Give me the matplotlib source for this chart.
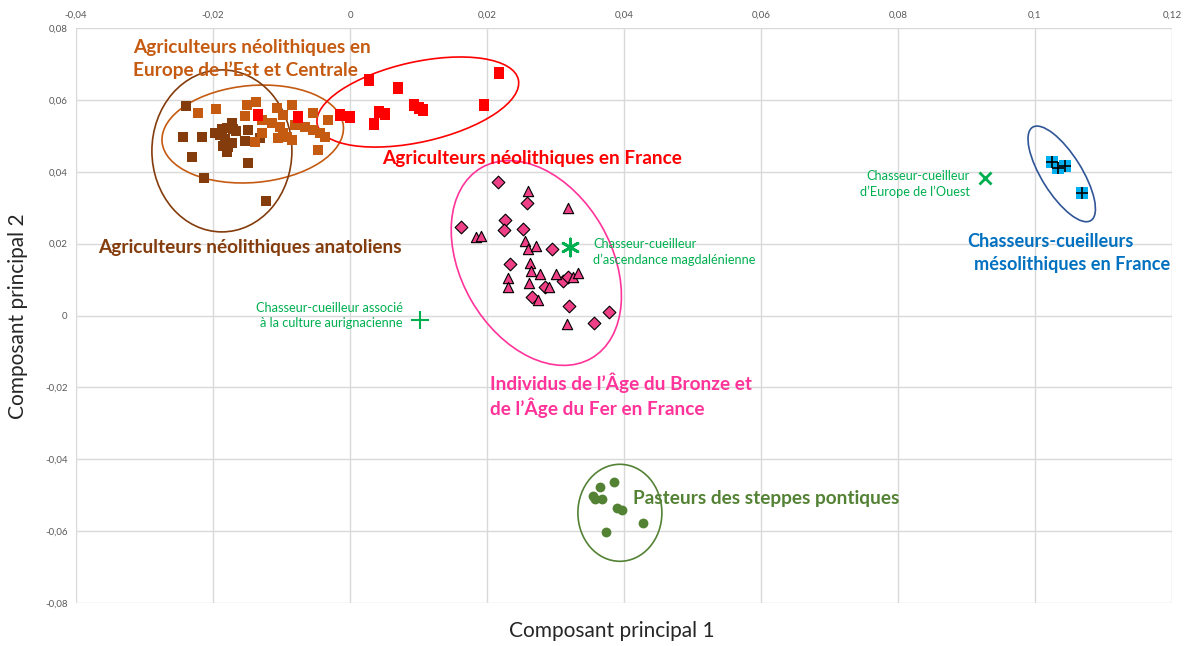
"""PCA scatter: Neolithic / Bronze Age / hunter-gatherer genomes on PC1 x PC2."""

import matplotlib.pyplot as plt
import numpy as np
from matplotlib.patches import Ellipse
from matplotlib.transforms import Affine2D
from matplotlib.ticker import FuncFormatter

plt.rcParams["font.family"] = ["Lato", "DejaVu Sans"]

# --- data ------------------------------------------------------------------
anat_x = [-0.0240, -0.0244, -0.0216, -0.0231, -0.0197, -0.0187, -0.0180, -0.0172,
          -0.0171, -0.0183, -0.0185, -0.0180, -0.0172, -0.0178, -0.0149, -0.0153,
          -0.0149, -0.0213, -0.0123, -0.0131, -0.0190, -0.0166]
anat_y = [0.0583, 0.0498, 0.0498, 0.0442, 0.0508, 0.0519, 0.0522, 0.0536,
          0.0519, 0.0491, 0.0472, 0.0455, 0.0480, 0.0469, 0.0516, 0.0485,
          0.0424, 0.0383, 0.0319, 0.0494, 0.0502, 0.0513]

east_x = [-0.0222, -0.0196, -0.0137, -0.0150, -0.0153, -0.0129, -0.0139, -0.0129,
          -0.0114, -0.0107, -0.0085, -0.0098, -0.0102, -0.0098, -0.0105, -0.0092,
          -0.0085, -0.0054, -0.0066, -0.0054, -0.0044, -0.0037, -0.0047, -0.0032,
          -0.0080]
east_y = [0.0563, 0.0574, 0.0594, 0.0586, 0.0555, 0.0544, 0.0483, 0.0508,
          0.0536, 0.0577, 0.0586, 0.0558, 0.0524, 0.0508, 0.0494, 0.0497,
          0.0488, 0.0563, 0.0524, 0.0516, 0.0508, 0.0497, 0.0460, 0.0544,
          0.0530]

france_x = [-0.0134, -0.0076, -0.0015, 0.0000, 0.0028, 0.0070, 0.0042, 0.0051,
            0.0035, 0.0093, 0.0101, 0.0107, 0.0196, 0.0218]
france_y = [0.0558, 0.0552, 0.0558, 0.0552, 0.0655, 0.0633, 0.0566, 0.0561,
            0.0533, 0.0586, 0.0577, 0.0572, 0.0586, 0.0675]

bronze_dia_x = [0.0216, 0.0258, 0.0162, 0.0226, 0.0225, 0.0253, 0.0295, 0.0234,
                0.0285, 0.0266, 0.0311, 0.0318, 0.0320, 0.0356, 0.0378]
bronze_dia_y = [0.0371, 0.0313, 0.0246, 0.0266, 0.0238, 0.0241, 0.0185, 0.0143,
                0.0079, 0.0052, 0.0096, 0.0107, 0.0026, -0.0021, 0.0010]

bronze_tri_x = [0.0260, 0.0318, 0.0184, 0.0191, 0.0256, 0.0260, 0.0272, 0.0263,
                0.0264, 0.0231, 0.0231, 0.0261, 0.0277, 0.0291, 0.0275, 0.0301,
                0.0326, 0.0333, 0.0317]
bronze_tri_y = [0.0346, 0.0299, 0.0218, 0.0221, 0.0207, 0.0185, 0.0193, 0.0146,
                0.0124, 0.0104, 0.0079, 0.0090, 0.0115, 0.0079, 0.0043, 0.0115,
                0.0107, 0.0118, -0.0024]

steppe_x = [0.0385, 0.0365, 0.0355, 0.0358, 0.0368, 0.0390, 0.0397, 0.0428, 0.0374]
steppe_y = [-0.0463, -0.0477, -0.0502, -0.0510, -0.0510, -0.0536, -0.0541, -0.0577, -0.0602]

meso_x = [0.1025, 0.1034, 0.1044, 0.1069]
meso_y = [0.0427, 0.0410, 0.0416, 0.0341]

whg_x, whg_y = 0.0927, 0.0383          # Europe de l'Ouest
magd_x, magd_y = 0.0321, 0.0191        # magdalénien
aur_x, aur_y = 0.0102, -0.0013         # aurignacien

# ellipses: centre in data units, width/height in pixels, angle in degrees
ELLIPSES = [
    ((-0.0142, 0.0505), 182, 97, 5, "#C55A11"),
    ((-0.0187, 0.0458), 140, 162, 0, "#843C0C"),
    ((0.0099, 0.0594), 206, 80, 12.6, "#FF0000"),
    ((0.0272, 0.0146), 220, 150, -60, "#FF3399"),
    ((0.0394, -0.0549), 84, 97, 0, "#548235"),
    ((0.1039, 0.0394), 110, 40, -58, "#2F5597"),
]

ORANGE = "#C55A11"
BROWN = "#843C0C"
RED = "#FF0000"
PINK = "#EE3F87"
OLIVE = "#548235"
GREEN = "#00B050"
CYAN = "#00B0F0"
BLUE = "#0070C0"


def excel_fmt(v, _):
    if abs(v) < 1e-9:
        return "0"
    s = f"{v:.2f}".rstrip("0")
    return s.replace(".", ",")


def main():
    fig = plt.figure(figsize=(11.95, 6.46), dpi=100)
    ax = fig.add_axes([76 / 1195, 1 - 603 / 646, (1172 - 76) / 1195, (603 - 28) / 646])
    ax.set_xlim(-0.04, 0.12)
    ax.set_ylim(-0.08, 0.08)
    ax.set_xticks(np.arange(-0.04, 0.1201, 0.02))
    ax.set_yticks(np.arange(-0.08, 0.0801, 0.02))
    ax.xaxis.set_major_formatter(FuncFormatter(excel_fmt))
    ax.yaxis.set_major_formatter(FuncFormatter(excel_fmt))
    ax.xaxis.tick_top()
    ax.tick_params(length=0, labelsize=7, colors="#595959", pad=6)
    ax.grid(True, color="#D9D9D9", linewidth=1)
    for s in ax.spines.values():
        s.set_visible(False)
    ax.set_axisbelow(True)

    ax.set_xlabel("Composant principal 1", fontsize=15, color="#262626")
    ax.set_ylabel("Composant principal 2", fontsize=15, color="#262626")
    ax.xaxis.set_label_coords(0.4886, -0.0487)
    ax.yaxis.set_label_coords(-0.0529, 0.499)
    ax.xaxis.label.set_va("center")
    ax.yaxis.label.set_va("center")

    # data-per-pixel factors for drawing ellipses in screen-like units
    kx = 0.16 / (1172 - 76)
    ky = 0.16 / (603 - 28)
    for (cx, cy), w, h, ang, col in ELLIPSES:
        tr = Affine2D().scale(kx, ky).translate(cx, cy) + ax.transData
        ax.add_patch(Ellipse((0, 0), w, h, angle=ang, fill=False, edgecolor=col,
                             linewidth=1.2, transform=tr, zorder=3))

    ax.scatter(anat_x, anat_y, marker="s", s=62, color=BROWN, linewidths=0, zorder=4)
    ax.scatter(east_x, east_y, marker="s", s=62, color=ORANGE, linewidths=0, zorder=5)
    rect = [(-0.8, -1), (0.8, -1), (0.8, 1), (-0.8, 1)]
    ax.scatter(france_x, france_y, marker=rect, s=85, color=RED, linewidths=0, zorder=6)
    ax.scatter(bronze_dia_x, bronze_dia_y, marker="D", s=42, color=PINK,
               edgecolors="black", linewidths=0.8, zorder=6)
    ax.scatter(bronze_tri_x, bronze_tri_y, marker="^", s=55, color=PINK,
               edgecolors="black", linewidths=0.8, zorder=6)
    ax.scatter(steppe_x, steppe_y, marker="o", s=50, color=OLIVE, linewidths=0, zorder=6)
    ax.scatter(meso_x, meso_y, marker="s", s=80, color=CYAN, linewidths=0, zorder=6)
    ax.scatter(meso_x, meso_y, marker="+", s=70, color="black", linewidths=1.2, zorder=7)
    ax.scatter([whg_x], [whg_y], marker="x", s=75, color=GREEN, linewidths=2, zorder=6)
    ax.scatter([magd_x], [magd_y], marker=(6, 2, 0), s=150, color=GREEN, linewidths=2, zorder=6)
    ax.scatter([aur_x], [aur_y], marker="+", s=150, color=GREEN, linewidths=1.5, zorder=6)

    bold = dict(fontsize=13.7, fontweight="bold", va="center")
    ax.text(-0.0317, 0.0747, "Agriculteurs néolithiques en", color=ORANGE, **bold)
    ax.text(-0.0317, 0.0683, "Europe de l’Est et Centrale", color=ORANGE, **bold)
    ax.text(0.0047, 0.0438, "Agriculteurs néolithiques en France", color=RED, **bold)
    ax.text(-0.0368, 0.0188, "Agriculteurs néolithiques anatoliens", color=BROWN, **bold)
    blue_txt = dict(bold, fontsize=13.1)
    ax.text(0.0901, 0.0207, "Chasseurs-cueilleurs", color=BLUE, **blue_txt)
    ax.text(0.0911, 0.0141, "mésolithiques en France", color=BLUE, **blue_txt)
    ax.text(0.0204, -0.0188, "Individus de l’Âge du Bronze et", color="#FF3399", **bold)
    ax.text(0.0204, -0.0257, "de l’Âge du Fer en France", color="#FF3399", **bold)
    ax.text(0.0413, -0.0508, "Pasteurs des steppes pontiques", color=OLIVE, **bold)

    small = dict(fontsize=9.2, color=GREEN, va="center")
    ax.text(0.0905, 0.0388, "Chasseur-cueilleur", ha="right", **small)
    ax.text(0.0905, 0.0344, "d’Europe de l’Ouest", ha="right", **small)
    ax.text(0.0355, 0.0199, "Chasseur-cueilleur", ha="left", **small)
    ax.text(0.0355, 0.0154, "d’ascendance magdalénienne", ha="left", **small)
    ax.text(0.0077, 0.0021, "Chasseur-cueilleur associé", ha="right", **small)
    ax.text(0.0077, -0.0021, "à la culture aurignacienne", ha="right", **small)

    fig.savefig("out.png", dpi=100)


if __name__ == "__main__":
    main()
